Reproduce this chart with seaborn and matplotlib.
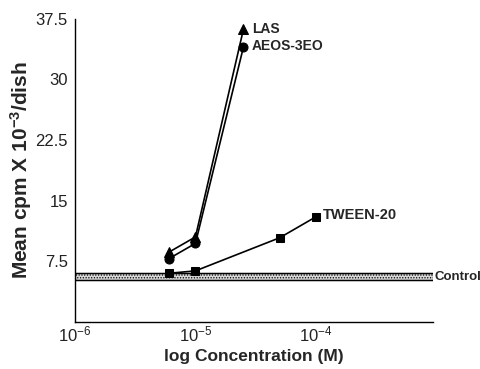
import numpy as np
import pandas as pd
import matplotlib
matplotlib.use("Agg")
import matplotlib.pyplot as plt
import seaborn as sns

# Data
las_x = [6e-6, 1e-5, 2.5e-5]
las_y = [8.6, 10.5, 36.2]
aeos_x = [6e-6, 1e-5, 2.5e-5]
aeos_y = [7.8, 9.7, 34.0]
tween_x = [6e-6, 1e-5, 5e-5, 1e-4]
tween_y = [6.0, 6.3, 10.4, 13.0]
control_low = 5.15
control_high = 6.05
y_ticks = [7.5, 15, 22.5, 30, 37.5]
y_tick_labels = ["7.5", "15", "22.5", "30", "37.5"]
x_ticks = [1e-6, 1e-5, 1e-4]
x_tick_labels = [r"$\mathregular{10^{-6}}$", r"$\mathregular{10^{-5}}$", r"$\mathregular{10^{-4}}$"]

sns.set_style("white")
plt.rcParams['font.family'] = ['Liberation Sans', 'DejaVu Sans']
plt.rcParams['mathtext.fontset'] = 'custom'
plt.rcParams['mathtext.rm'] = 'Liberation Sans'
plt.rcParams['mathtext.bf'] = 'Liberation Sans:bold'
plt.rcParams['hatch.color'] = '#555555'
plt.rcParams['hatch.linewidth'] = 0.6

fig = plt.figure(figsize=(4.8, 3.69), dpi=100)
ax = fig.add_axes([0.156, 0.128, 0.746, 0.821])

xmin, xmax = 1e-6, 10**-3.03

# control band
ax.fill_between([xmin, xmax], [control_low] * 2, [control_high] * 2,
                facecolor='#d8d8d8', edgecolor='black', hatch='......', linewidth=0.8, zorder=1)
ax.plot([xmin, xmax], [control_low] * 2, color='black', lw=1.0, zorder=2)
ax.plot([xmin, xmax], [control_high] * 2, color='black', lw=1.0, zorder=2)

df_las = pd.DataFrame({"x": las_x, "y": las_y})
df_aeos = pd.DataFrame({"x": aeos_x, "y": aeos_y})
df_tween = pd.DataFrame({"x": tween_x, "y": tween_y})

sns.lineplot(data=df_las, x="x", y="y", ax=ax, color='black', lw=1.2,
             marker='^', markersize=7, markeredgecolor='black', zorder=3)
sns.lineplot(data=df_aeos, x="x", y="y", ax=ax, color='black', lw=1.2,
             marker='o', markersize=6.5, markeredgecolor='black', zorder=3)
sns.lineplot(data=df_tween, x="x", y="y", ax=ax, color='black', lw=1.2,
             marker='s', markersize=6, markeredgecolor='black', zorder=3)

ax.set_xscale('log')
ax.set_xlim(xmin, xmax)
ax.set_ylim(0, 37.5)
ax.set_xticks(x_ticks)
ax.set_xticklabels(x_tick_labels, fontsize=12)
ax.minorticks_off()
ax.set_yticks(y_ticks)
ax.set_yticklabels(y_tick_labels, fontsize=12)
ax.tick_params(direction='in', length=4, width=1, color='black', labelcolor='#222222')
ax.tick_params(axis='x', pad=2)
ax.tick_params(axis='y', pad=5)

for s in ['top', 'right']:
    ax.spines[s].set_visible(False)
for s in ['left', 'bottom']:
    ax.spines[s].set_color('black')
    ax.spines[s].set_linewidth(1.0)

ax.set_xlabel("log Concentration (M)", fontsize=12.5, fontweight='bold', labelpad=3)
ax.set_ylabel(r"Mean cpm X 10$\mathbf{^{-3}}$/dish", fontsize=15, fontweight='bold', labelpad=1)

# series labels
ax.annotate("LAS", xy=(las_x[-1], las_y[-1]), xytext=(6, 0), textcoords='offset points',
            fontsize=10, fontweight='bold', va='center', ha='left')
ax.annotate("AEOS-3EO", xy=(aeos_x[-1], aeos_y[-1]), xytext=(6, 1), textcoords='offset points',
            fontsize=10, fontweight='bold', va='center', ha='left')
ax.annotate("TWEEN-20", xy=(tween_x[-1], tween_y[-1]), xytext=(5, 1), textcoords='offset points',
            fontsize=10.5, fontweight='bold', va='center', ha='left')
ax.annotate("Control", xy=(xmax, (control_low + control_high) / 2), xytext=(1, 0),
            textcoords='offset points', fontsize=9.5, fontweight='bold', va='center', ha='left',
            annotation_clip=False)

fig.savefig("out.png", dpi=100)
